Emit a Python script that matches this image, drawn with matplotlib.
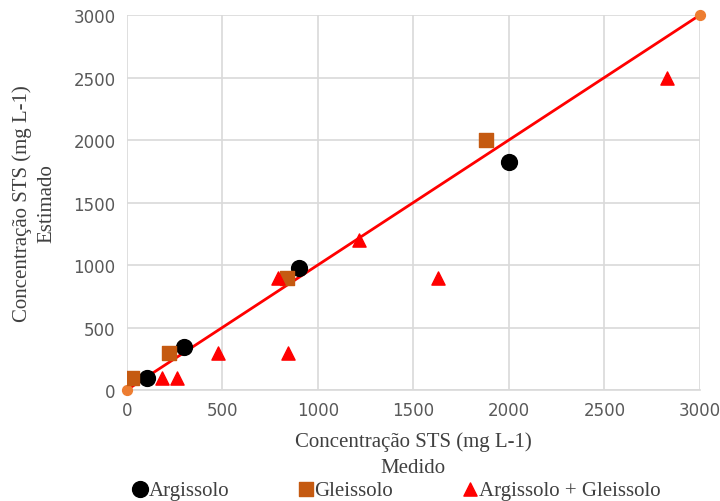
import matplotlib
matplotlib.use('Agg')
import matplotlib.pyplot as plt

# dados
arg_x = [105, 300, 900, 2000]
arg_y = [96, 344, 976, 1826]
gle_x = [26, 220, 838, 1880]
gle_y = [100, 300, 900, 2000]
mix_x = [183, 262, 476, 791, 843, 1215, 1628, 2827]
mix_y = [100, 100, 300, 900, 300, 1200, 900, 2500]
linha_x = [0, 3000]
linha_y = [0, 3000]
ticks = [0, 500, 1000, 1500, 2000, 2500, 3000]

serif = ['Liberation Serif', 'DejaVu Serif']

fig = plt.figure(figsize=(7.2, 5.02), dpi=100)
ax = fig.add_axes([0.176, 0.221, 0.796, 0.747])

ax.plot(linha_x, linha_y, color='#ff0000', lw=2, zorder=3)
ax.scatter(linha_x, linha_y, s=50, color='#ed7d31', zorder=4, clip_on=False)

ax.scatter(arg_x, arg_y, s=130, marker='o', color='black', zorder=5, label='Argissolo')
ax.scatter(gle_x, gle_y, s=90, marker='s', color='#c55a11', zorder=5, label='Gleissolo')
ax.scatter(mix_x, mix_y, s=90, marker='^', color='#ff0000', zorder=5, label='Argissolo + Gleissolo')

ax.set_xlim(0, 3000)
ax.set_ylim(0, 3000)
ax.set_xticks(ticks)
ax.set_yticks(ticks)
ax.grid(True, color='#d9d9d9', lw=1.2)
ax.set_axisbelow(True)
for s in ['top', 'right', 'left']:
    ax.spines[s].set_visible(False)
ax.spines['bottom'].set_color('#d9d9d9')
ax.spines['bottom'].set_linewidth(1.2)
ax.tick_params(length=0, labelsize=12, colors='#595959', pad=8)

ax.set_xlabel('Concentração STS (mg L-1)\nMedido', family=serif, fontsize=15,
              color='#404040', labelpad=9, linespacing=1.45)
ax.set_ylabel('Concentração STS (mg L-1)\nEstimado', family=serif, fontsize=15,
              color='#404040', labelpad=12, linespacing=1.45)

leg = fig.legend(loc='lower center', bbox_to_anchor=(0.547, -0.035), ncol=3, frameon=False,
                 handletextpad=-0.2, handlelength=1.2, columnspacing=3.1,
                 prop={'family': serif, 'size': 15})
for t in leg.get_texts():
    t.set_color('#404040')

fig.savefig('out.png', dpi=100)
